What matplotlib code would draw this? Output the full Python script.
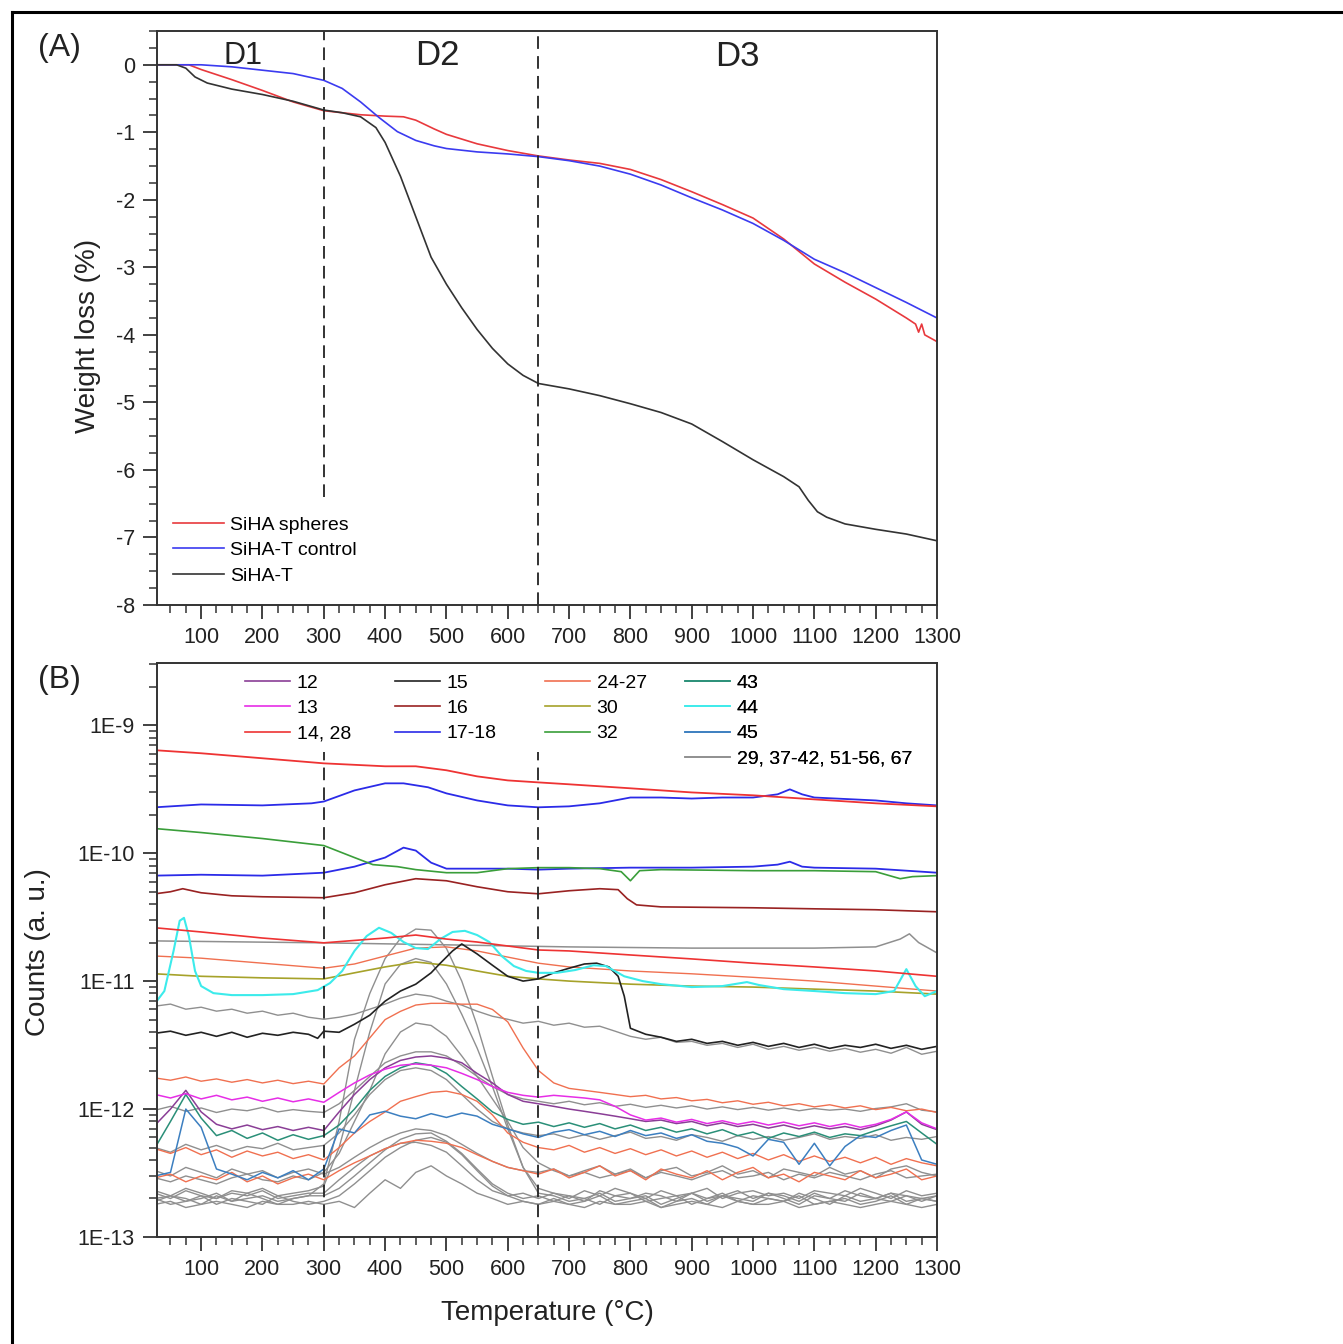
import numpy as np
import matplotlib.pyplot as plt
from matplotlib.lines import Line2D
from matplotlib.ticker import MultipleLocator, LogLocator, FixedLocator, NullFormatter, FuncFormatter

plt.rcParams['font.family'] = ['Liberation Sans', 'DejaVu Sans']
plt.rcParams['axes.unicode_minus'] = False

# ---------------- (A) TGA weight loss (%) ----------------
T_red = [28, 60, 80, 100, 150, 200, 250, 300, 330, 360, 400, 430, 450, 480, 500, 550, 600, 650, 700,
         750, 800, 850, 900, 950, 1000, 1050, 1100, 1150, 1200, 1250, 1265, 1270, 1275, 1280, 1300]
w_red = [0, 0, 0, -0.07, -0.22, -0.38, -0.55, -0.68, -0.71, -0.74, -0.76, -0.77, -0.82, -0.95, -1.03, -1.17,
         -1.27, -1.35, -1.41, -1.46, -1.55, -1.70, -1.88, -2.07, -2.27, -2.58, -2.95, -3.22, -3.47, -3.75,
         -3.84, -3.96, -3.84, -4.0, -4.1]

T_blue = [28, 60, 100, 150, 200, 250, 300, 330, 360, 390, 420, 450, 480, 500, 550, 600, 650, 700, 750,
          800, 850, 900, 950, 1000, 1050, 1100, 1150, 1200, 1250, 1300]
w_blue = [0, 0, 0, -0.03, -0.08, -0.13, -0.23, -0.35, -0.55, -0.78, -0.99, -1.12, -1.2, -1.24, -1.29,
          -1.32, -1.36, -1.42, -1.5, -1.62, -1.78, -1.97, -2.15, -2.35, -2.6, -2.88, -3.08, -3.3, -3.52, -3.75]

T_blk = [28, 60, 75, 90, 110, 150, 200, 250, 300, 330, 360, 385, 400, 425, 450, 475, 500, 525, 550, 575,
         600, 625, 650, 700, 750, 800, 850, 900, 950, 1000, 1050, 1075, 1090, 1105, 1120, 1150, 1200, 1250, 1300]
w_blk = [0, 0, -0.05, -0.18, -0.27, -0.36, -0.44, -0.54, -0.67, -0.71, -0.77, -0.93, -1.15, -1.65, -2.25,
         -2.85, -3.25, -3.6, -3.92, -4.2, -4.43, -4.6, -4.72, -4.8, -4.9, -5.02, -5.15, -5.32, -5.58, -5.85,
         -6.1, -6.25, -6.45, -6.62, -6.7, -6.8, -6.88, -6.95, -7.05]

stage_bounds = [300, 650]

# ---------------- (B) MS counts, values in units of 1E-13 ----------------
T_grid = list(range(25, 1301, 25))
count_decades = [1e-13, 1e-12, 1e-11, 1e-10, 1e-9]

T_r14a = [25, 100, 200, 300, 400, 450, 500, 550, 600, 650, 700, 800, 900, 1000, 1100, 1200, 1300]
v_r14a = [6370, 6030, 5510, 5030, 4770, 4770, 4440, 3980, 3700, 3570, 3450, 3210, 2980, 2830, 2630, 2450, 2320]

T_b17a = [25, 100, 200, 280, 300, 350, 400, 430, 470, 500, 550, 600, 650, 700, 750, 800, 850, 900, 950,
          1000, 1040, 1060, 1080, 1100, 1200, 1250, 1300]
v_b17a = [2280, 2400, 2360, 2450, 2530, 3090, 3510, 3510, 3270, 2930, 2580, 2360, 2280, 2320, 2450, 2720,
          2720, 2670, 2720, 2720, 2880, 3150, 2880, 2720, 2580, 2450, 2360]

T_g32 = [25, 100, 200, 300, 350, 380, 420, 450, 500, 550, 600, 650, 700, 750, 785, 800, 815, 850, 1000,
         1100, 1200, 1240, 1260, 1300]
v_g32 = [1556, 1448, 1300, 1146, 923, 813, 784, 743, 703, 703, 756, 770, 770, 756, 716, 608, 729, 743, 729,
         729, 716, 631, 655, 667]

T_b17b = [25, 100, 200, 300, 350, 400, 430, 450, 475, 500, 600, 650, 700, 800, 900, 1000, 1040, 1060, 1080,
          1100, 1200, 1300]
v_b17b = [667, 678, 667, 703, 784, 923, 1104, 1047, 842, 756, 756, 743, 756, 770, 770, 784, 813, 857, 784,
          770, 756, 703]

T_d16 = [25, 50, 70, 100, 150, 200, 300, 350, 400, 450, 500, 550, 600, 650, 700, 750, 780, 795, 810, 850,
         1000, 1100, 1200, 1300]
v_d16 = [481, 499, 527, 490, 464, 456, 448, 490, 566, 631, 608, 546, 499, 481, 508, 527, 518, 440, 394, 380,
         374, 367, 361, 348]

T_r14b = [25, 100, 200, 300, 400, 450, 500, 550, 600, 650, 700, 800, 900, 1000, 1100, 1200, 1300]
v_r14b = [261, 242, 217, 199, 217, 229, 213, 202, 188, 175, 172, 160, 149, 138, 129, 120, 109]

T_o24a = [25, 100, 200, 300, 350, 400, 450, 500, 550, 600, 650, 700, 800, 900, 1000, 1100, 1200, 1300]
v_o24a = [157, 151, 138, 126, 136, 157, 181, 185, 172, 154, 138, 129, 120, 114, 107, 100, 91.4, 83.6]

T_y30 = [25, 100, 200, 300, 350, 400, 450, 500, 550, 600, 650, 700, 800, 900, 1000, 1100, 1200, 1300]
v_y30 = [114, 109, 106, 104, 116, 129, 141, 133, 120, 109, 104, 100, 94.6, 91.4, 89.8, 86.5, 83.6, 79.1]

T_gr1 = [25, 300, 500, 700, 900, 1100, 1200, 1240, 1255, 1270, 1300]
v_gr1 = [206, 199, 192, 185, 181, 181, 185, 213, 234, 200, 166]

T_c44 = [25, 40, 55, 65, 72, 80, 90, 100, 120, 150, 200, 250, 290, 310, 330, 350, 370, 390, 410, 430, 450,
         470, 490, 510, 530, 550, 570, 590, 610, 630, 650, 680, 710, 740, 760, 790, 820, 850, 900, 950, 990,
         1010, 1050, 1100, 1150, 1200, 1230, 1250, 1265, 1280, 1300]
v_c44 = [67.2, 83.6, 172, 296, 312, 225, 120, 91.4, 80.5, 77.7, 77.7, 79.1, 85.0, 96.4, 120, 172, 225, 261,
         238, 202, 181, 178, 213, 242, 247, 229, 202, 157, 131, 120, 116, 116, 122, 133, 131, 109, 100, 94.6,
         89.8, 91.4, 98.2, 93.1, 86.5, 83.6, 80.5, 79.1, 83.6, 124, 91.4, 76.2, 83.6]

T_k15 = [25, 50, 75, 100, 125, 150, 175, 200, 225, 250, 275, 290, 300, 325, 350, 375, 400, 425, 450, 475,
         490, 510, 525, 550, 575, 600, 625, 650, 675, 700, 725, 745, 765, 780, 790, 800, 825, 850, 875, 900,
         925, 950, 975, 1000, 1025, 1050, 1075, 1100, 1125, 1150, 1175, 1200, 1225, 1250, 1275, 1300]
v_k15 = [39.1, 40.6, 37.7, 39.8, 37.0, 39.8, 36.4, 39.1, 37.7, 39.8, 38.4, 35.7, 40.6, 39.8, 46.0, 54.1,
         69.7, 83.6, 94.6, 116, 138, 172, 195, 163, 133, 109, 100, 104, 116, 126, 136, 138, 129, 109, 76.2,
         42.8, 38.4, 36.4, 33.8, 35.1, 32.6, 33.8, 31.5, 33.2, 30.9, 32.6, 30.3, 32.1, 29.8, 31.5, 30.3, 32.1,
         29.8, 31.5, 29.3, 30.9]

# noisy traces on the 25 degC grid
v_p12 = [7.5, 10, 14, 9.5, 7.6, 7.0, 7.5, 6.9, 7.3, 6.8, 7.2, 6.8,
         9.5, 13, 17, 21, 24, 25.5, 26, 25, 23, 19, 16, 13, 11.5, 11,
         10.5, 10, 9.6, 9.2, 8.8, 8.4, 8.0, 8.2, 7.7, 8.0, 7.4, 7.8, 7.3, 7.6, 7.1, 7.5, 7.0, 7.4, 7.0, 7.3,
         6.9, 7.4, 8.2, 9.5, 7.6, 6.9]
v_m13 = [13, 12.2, 13.2, 12, 12.8, 11.8, 12.4, 11.5, 12.2, 11.4, 12.0, 11.3,
         13.5, 16, 18.5, 20.5, 22, 22.5, 22, 21, 19, 17, 15, 13.5, 12.8, 12.4,
         12.8, 12.5, 12.2, 11.8, 10.5, 9.0, 8.2, 8.5, 7.9, 8.3, 7.7, 8.1, 7.6, 8.0, 7.5, 7.9, 7.4, 7.8, 7.3,
         7.7, 7.2, 7.6, 8.3, 9.5, 7.8, 7.0]
v_t43 = [5.0, 8, 13, 8.5, 6.2, 6.8, 5.9, 6.5, 5.7, 6.3, 5.8, 6.2,
         7.5, 10, 14, 18, 21, 23, 22, 19, 15, 12, 9.5, 8.3, 7.6, 7.9,
         7.3, 7.8, 7.2, 7.7, 7.0, 7.5, 6.8, 7.2, 6.6, 7.0, 6.4, 6.9, 6.2, 6.6, 5.9, 6.5, 6.1, 6.6, 6.0, 6.4,
         6.2, 6.8, 7.4, 8.0, 6.5, 5.3]
v_s45 = [3.0, 3.2, 10, 7.2, 3.4, 3.1, 2.8, 3.2, 2.9, 3.3, 2.8, 3.4,
         7.0, 6.5, 9.0, 9.6, 8.8, 8.4, 9.2, 8.6, 9.3, 8.8, 7.6, 7.0, 6.4, 6.0,
         6.6, 6.9, 6.3, 6.7, 6.1, 6.8, 6.2, 6.5, 5.9, 6.3, 5.6, 5.4, 5.0, 4.3, 5.8, 5.5, 3.7, 5.4, 3.6, 5.1,
         6.2, 6.0, 6.8, 7.5, 4.0, 3.7]
v_o24b = [17.5, 16.8, 17.8, 16.5, 17.2, 16.2, 17.0, 16.0, 16.8, 15.8, 16.5, 15.7,
          21, 26, 36, 50, 58, 65, 67, 67, 66, 66, 60, 48, 30, 20,
          16, 14.5, 14, 13.5, 13, 12.5, 12.8, 12.0, 12.3, 11.6, 11.9, 11.2, 11.6, 10.9, 11.3, 10.6, 11.0,
          10.4, 10.8, 10.2, 10.6, 9.9, 10.3, 9.7, 10.0, 9.4]
v_o24c = [4.9, 4.5, 5.0, 4.4, 4.8, 4.2, 4.7, 4.3, 4.6, 4.1, 4.4, 4.0,
          5.0, 6.5, 8.0, 9.5, 11.5, 12.5, 13.5, 13.8, 13.0, 11.5, 9.0, 6.5, 5.5, 5.0,
          4.8, 5.2, 4.6, 5.0, 4.5, 4.9, 4.4, 4.8, 4.3, 4.7, 4.2, 4.6, 4.1, 4.5, 4.0, 4.4, 3.9, 4.3, 3.9, 4.2,
          3.8, 4.2, 3.7, 4.1, 3.8, 3.6]
v_o24d = [2.9, 3.1, 2.7, 3.0, 2.8, 3.2, 2.7, 3.0, 2.6, 2.9, 3.1, 2.8,
          3.3, 3.8, 4.3, 4.9, 5.4, 5.7, 5.6, 5.4, 5.0, 4.4, 3.9, 3.5, 3.3, 3.1,
          3.4, 2.9, 3.2, 3.6, 3.0, 3.3, 2.8, 3.4, 3.1, 2.9, 3.3, 2.8, 3.2, 3.5, 2.9, 3.1, 2.7, 3.2, 3.0, 2.8,
          3.3, 2.9, 3.1, 3.4, 2.8, 3.0]

# grey group: 29, 37-42, 51-56, 67
gray_traces = [
    [63.7, 66.1, 60.3, 62.5, 58.2, 60.3, 56.1, 58.2, 54.1, 56.1, 52.2, 50.3,
     52.2, 55.1, 60.3, 66.1, 73.6, 79.1, 76.2, 69.7, 64.9, 58.2, 53.1, 50.3, 46.9, 48.5,
     45.2, 46.9, 43.6, 44.4, 40.6, 37.0, 35.1, 36.4, 33.2, 33.8, 31.5, 32.6, 30.3, 32.1, 29.3, 30.9, 28.8,
     30.3, 28.3, 29.8, 27.8, 29.3, 27.3, 30.3, 26.8, 28.3],
    [2.0, 2.1, 1.9, 2.0, 2.2, 1.9, 2.0, 2.1, 1.9, 2.0, 2.1,
     2.6, 8, 35, 80, 150, 215, 255, 250, 180, 100, 45, 18, 7.5, 3.5, 2.2,
     2.1, 1.9, 2.0, 2.2, 1.9, 2.0, 2.1, 1.8, 2.0, 2.2, 1.9, 2.1, 2.0, 1.9, 2.2, 2.0, 1.8, 2.1, 2.0, 1.9,
     2.2, 2.0, 1.9, 2.1, 2.0, 1.9],
    [2.3, 2.1, 2.4, 2.2, 2.0, 2.3, 2.2, 2.4, 2.1, 2.2, 2.3,
     2.5, 5, 14, 40, 95, 135, 150, 140, 95, 55, 30, 15, 7, 3.5, 2.4,
     2.2, 2.0, 2.3, 2.1, 2.4, 2.2, 2.0, 2.3, 2.1, 2.2, 2.4, 2.0, 2.2, 2.3, 2.1, 2.2, 2.0, 2.3, 2.2, 2.1,
     2.4, 2.2, 2.0, 2.3, 2.1, 2.2],
    [2.9, 2.7, 3.0, 2.8, 2.6, 2.9, 3.1, 2.8, 2.7, 3.0, 2.8,
     3.2, 4.5, 8, 14, 27, 40, 47, 45, 37, 26, 18, 12, 8, 5, 3.8,
     3.3, 3.0, 3.2, 2.9, 3.1, 3.3, 2.9, 3.2, 3.0, 2.8, 3.1, 3.3, 2.9, 3.0, 3.2, 2.8, 3.1, 2.9, 3.2, 3.0,
     2.8, 3.1, 3.3, 2.9, 3.0, 3.1],
    [9.8, 10.5, 9.6, 10.2, 9.4, 10.0, 9.7, 10.3, 9.5, 9.9, 9.6,
     9.4, 11, 14, 18, 23, 26, 28, 28, 26, 22, 18, 15, 13, 12, 11.5,
     11, 11.5, 10.8, 11.2, 10.5, 10.9, 10.3, 10.7, 10.2, 10.6, 10.0, 10.4, 9.9, 10.3, 9.8, 10.2, 9.7, 10.1,
     9.8, 10.0, 9.6, 10.1, 10.4, 11, 9.8, 9.5],
    [5.0, 4.6, 5.3, 4.8, 5.2, 4.7, 5.1, 4.9, 5.4, 4.8, 5.0, 5.2,
     6.5, 9, 13, 17, 20, 21, 20, 17, 13, 10, 8, 7, 6.5, 6.2,
     6.4, 5.9, 6.3, 5.8, 6.2, 6.6, 5.9, 6.1, 5.7, 6.3, 6.0, 5.6, 6.2, 5.8, 6.1, 5.7, 6.0, 6.4, 5.8, 6.1,
     5.9, 6.3, 5.7, 6.0, 5.8, 6.1],
    [3.3, 3.0, 3.5, 3.2, 2.9, 3.4, 3.1, 3.3, 2.9, 3.2, 3.4, 3.1,
     3.5, 4.2, 5, 5.8, 6.5, 7, 6.8, 6.2, 5.3, 4.5, 3.9, 3.5, 3.3, 3.2,
     3.4, 3.0, 3.3, 3.6, 3.1, 3.4, 2.9, 3.3, 3.5, 3.0, 3.2, 3.6, 3.1, 3.3, 2.9, 3.4, 3.2, 3.0, 3.5, 3.1,
     3.3, 2.9, 3.4, 3.6, 3.2, 3.0],
    [1.9, 2.1, 2.0, 1.8, 2.1, 1.9, 2.2, 2.0, 1.8, 2.0, 2.1, 2.1,
     2.4, 3.0, 3.8, 4.8, 5.8, 6.4, 6.5, 5.6, 4.5, 3.4, 2.6, 2.2, 2.0, 2.1,
     1.9, 2.1, 2.0, 1.8, 2.1, 2.2, 1.9, 2.0, 2.1, 1.8, 2.0, 2.2, 1.9, 2.1, 2.0, 1.9, 2.2, 2.0, 1.8, 2.1,
     1.9, 2.0, 2.2, 1.9, 2.0, 2.1],
    [2.0, 1.8, 1.9, 2.1, 1.8, 2.0, 1.9, 1.8, 2.1, 1.9, 1.8, 1.9,
     2.1, 2.6, 3.3, 4.2, 5.0, 5.7, 6.0, 5.5, 4.4, 3.3, 2.5, 2.1, 1.9, 1.8,
     2.0, 1.8, 1.9, 2.1, 1.8, 1.9, 2.0, 1.7, 1.9, 2.0, 1.8, 2.1, 1.9, 1.8, 2.0, 1.9, 2.1, 1.8, 1.9, 2.0,
     1.8, 1.9, 2.1, 1.8, 2.0, 1.9],
    [2.2, 2.0, 2.3, 2.1, 2.0, 2.2, 2.1, 2.3, 2.0, 2.1, 2.2, 2.2,
     2.8, 3.5, 4.3, 4.9, 5.4, 5.5, 5.2, 4.6, 3.6, 2.8, 2.3, 2.1, 2.2, 2.0,
     2.2, 2.1, 1.9, 2.3, 2.1, 2.0, 2.2, 2.1, 1.9, 2.2, 2.0, 2.1, 2.3, 2.0, 2.2, 2.1, 1.9, 2.2, 2.0, 2.3,
     2.1, 2.0, 2.2, 2.1, 1.9, 2.1],
    [1.8, 1.9, 1.7, 1.8, 1.9, 1.8, 1.7, 1.9, 1.8, 1.8, 1.9, 1.8,
     1.9, 1.7, 2.2, 2.8, 2.4, 3.2, 3.6, 3.0, 2.6, 2.2, 2.0, 1.8, 1.9, 1.8,
     1.9, 1.8, 1.7, 1.9, 1.8, 1.8, 1.9, 1.7, 1.8, 1.9, 1.8, 1.7, 1.9, 1.8, 1.8, 1.9, 1.7, 1.8, 1.9, 1.8,
     1.7, 1.8, 1.9, 1.8, 1.7, 1.8],
]

unit = 1e-13

c12, c13, c14, c15 = '#8A3E96', '#E62EE6', '#EE3333', '#222222'
c16, c17, c24, c30 = '#992222', '#2B2BE8', '#F07050', '#A6A22A'
c32, c43, c44, c45 = '#3A9E3A', '#2A8F78', '#3CEBEB', '#3C7FC0'
cgray = '#8F8F8F'

fig = plt.figure(figsize=(13.43, 13.44), dpi=100)
axA = fig.add_axes([0.1169, 0.5499, 0.5808, 0.4270])
axB = fig.add_axes([0.1169, 0.0796, 0.5808, 0.4271])


def style(ax):
    for s in ax.spines.values():
        s.set_linewidth(1.4)
        s.set_color('#333333')
    ax.tick_params(which='both', direction='out', top=False, right=False, colors='#333333',
                   labelsize=15.5, labelcolor='#222222')
    ax.tick_params(which='major', length=10, width=1.3)
    ax.tick_params(which='minor', length=6, width=1.1)
    ax.tick_params(axis='x', which='major', pad=6)
    ax.tick_params(axis='y', which='major', pad=6)
    ax.set_xlim(28, 1300)
    ax.xaxis.set_major_locator(MultipleLocator(100))
    ax.xaxis.set_minor_locator(MultipleLocator(25))


# panel A
axA.plot(T_red, w_red, color='#E8393D', lw=1.2, label='SiHA spheres')
axA.plot(T_blue, w_blue, color='#3B3BF0', lw=1.2, label='SiHA-T control')
axA.plot(T_blk, w_blk, color='#333333', lw=1.2, label='SiHA-T')
axA.axvline(stage_bounds[0], ymin=0.188, ymax=1, color='#222222', lw=1.3, dashes=(7, 4))
axA.axvline(stage_bounds[1], color='#222222', lw=1.3, dashes=(7, 4))
style(axA)
axA.set_ylim(-8, 0.5)
axA.yaxis.set_major_locator(MultipleLocator(1))
axA.yaxis.set_minor_locator(MultipleLocator(0.25))
axA.yaxis.set_major_formatter(FuncFormatter(lambda v, p: '%d' % v))
axA.text(168, 0.13, 'D1', fontsize=22, ha='center', va='center', color='#222222')
axA.text(485, 0.14, 'D2', fontsize=25, ha='center', va='center', color='#222222')
axA.text(975, 0.13, 'D3', fontsize=25, ha='center', va='center', color='#222222')
axA.legend(loc='upper left', bbox_to_anchor=(0.0205, 0.1545), frameon=False, fontsize=14,
           handlelength=2.6, handletextpad=0.35, labelspacing=0.40, borderpad=0, borderaxespad=0)

# panel B: grey group first
for tr in gray_traces:
    axB.plot(T_grid, np.array(tr) * unit, color=cgray, lw=1.0)
axB.plot(T_gr1, np.array(v_gr1) * unit, color=cgray, lw=1.1)

axB.plot(T_grid, np.array(v_o24b) * unit, color=c24, lw=1.0)
axB.plot(T_grid, np.array(v_o24c) * unit, color=c24, lw=1.0)
axB.plot(T_grid, np.array(v_o24d) * unit, color=c24, lw=1.0)
axB.plot(T_o24a, np.array(v_o24a) * unit, color=c24, lw=1.0)
axB.plot(T_grid, np.array(v_s45) * unit, color=c45, lw=1.1)
axB.plot(T_grid, np.array(v_t43) * unit, color=c43, lw=1.1)
axB.plot(T_grid, np.array(v_p12) * unit, color=c12, lw=1.1)
axB.plot(T_grid, np.array(v_m13) * unit, color=c13, lw=1.1)
axB.plot(T_y30, np.array(v_y30) * unit, color=c30, lw=1.2)
axB.plot(T_k15, np.array(v_k15) * unit, color=c15, lw=1.2)
axB.plot(T_c44, np.array(v_c44) * unit, color=c44, lw=1.5)
axB.plot(T_r14b, np.array(v_r14b) * unit, color=c14, lw=1.2)
axB.plot(T_d16, np.array(v_d16) * unit, color=c16, lw=1.2)
axB.plot(T_b17b, np.array(v_b17b) * unit, color=c17, lw=1.3)
axB.plot(T_g32, np.array(v_g32) * unit, color=c32, lw=1.2)
axB.plot(T_b17a, np.array(v_b17a) * unit, color=c17, lw=1.3)
axB.plot(T_r14a, np.array(v_r14a) * unit, color=c14, lw=1.3)

for tb in stage_bounds:
    axB.axvline(tb, ymax=0.845, color='#222222', lw=1.3, dashes=(7, 4))

style(axB)
axB.set_yscale('log')
axB.set_ylim(1e-13, 3.06e-9)
axB.yaxis.set_major_locator(FixedLocator(count_decades))
axB.yaxis.set_minor_locator(LogLocator(base=10, subs=np.arange(2, 10), numticks=20))
axB.yaxis.set_minor_formatter(NullFormatter())
axB.yaxis.set_major_formatter(FuncFormatter(lambda v, p: '1E%d' % round(np.log10(v))))

# legend of panel B, four columns
cols = [
    [('12', c12), ('13', c13), ('14, 28', c14)],
    [('15', c15), ('16', c16), ('17-18', c17)],
    [('24-27', c24), ('30', c30), ('32', c32)],
    [('43', c43), ('44', c44), ('45', c45), ('29, 37-42, 51-56, 67', cgray)],
]
col_x = [0.1128, 0.3051, 0.4974, 0.6769]
for entries, x in zip(cols, col_x):
    handles = [Line2D([], [], color=c, lw=1.2) for _, c in entries]
    labels = [n for n, _ in entries]
    leg = axB.legend(handles, labels, loc='upper left', bbox_to_anchor=(x, 0.980), frameon=False,
                     fontsize=14, handlelength=2.3, handletextpad=0.36, labelspacing=0.39,
                     borderpad=0, borderaxespad=0)
    axB.add_artist(leg)

# labels
fig.text(0.0655, 0.75, 'Weight loss (%)', rotation=90, fontsize=20, ha='center', va='center', color='#222222')
fig.text(0.0283, 0.2917, 'Counts (a. u.)', rotation=90, fontsize=20, ha='center', va='center', color='#222222')
fig.text(0.4073, 0.0231, 'Temperature (°C)', fontsize=20, ha='center', va='center', color='#222222')
fig.text(0.0439, 0.9643, '(A)', fontsize=23, ha='center', va='center', color='#222222')
fig.text(0.0439, 0.494, '(B)', fontsize=23, ha='center', va='center', color='#222222')

# frame around the figure (top and left edges visible)
fig.add_artist(Line2D([12 / 1343, 1], [1 - 12 / 1344, 1 - 12 / 1344], transform=fig.transFigure,
                      color='black', lw=2.2))
fig.add_artist(Line2D([12 / 1343, 12 / 1343], [0, 1 - 12 / 1344], transform=fig.transFigure,
                      color='black', lw=2.2))

fig.savefig('out.png', dpi=100)
